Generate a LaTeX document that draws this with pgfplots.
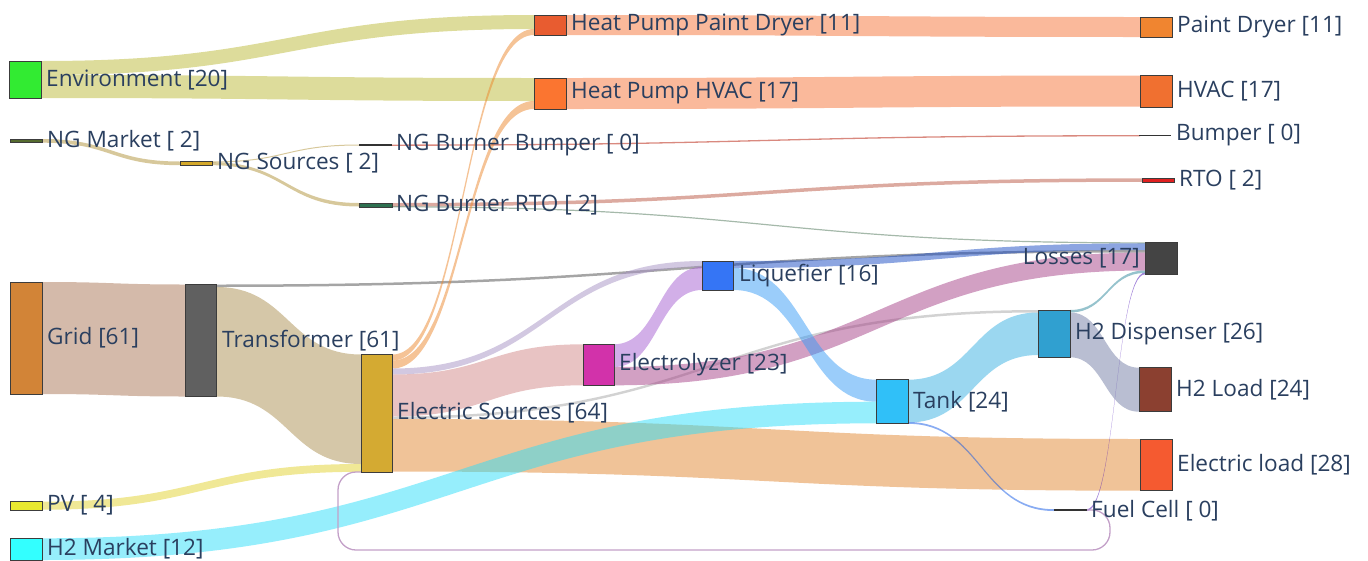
\documentclass[border=0pt]{standalone}
\usepackage{pgfplots}
\pgfplotsset{compat=1.18}
\usepackage{fontspec}
\setmainfont{Open Sans}
% node colours
\definecolor{nEnv}{RGB}{50,235,50}
\definecolor{nNGM}{RGB}{85,107,47}
\definecolor{nGrid}{RGB}{210,132,55}
\definecolor{nPV}{RGB}{232,232,48}
\definecolor{nH2M}{RGB}{51,255,255}
\definecolor{nNGS}{RGB}{212,168,42}
\definecolor{nTrf}{RGB}{96,96,96}
\definecolor{nRTOb}{RGB}{46,112,80}
\definecolor{nES}{RGB}{212,170,50}
\definecolor{nHPPD}{RGB}{232,92,48}
\definecolor{nHPHV}{RGB}{251,117,48}
\definecolor{nEly}{RGB}{210,50,170}
\definecolor{nLiq}{RGB}{53,117,245}
\definecolor{nTank}{RGB}{48,192,248}
\definecolor{nH2D}{RGB}{48,160,208}
\definecolor{nPD}{RGB}{240,133,48}
\definecolor{nHV}{RGB}{240,112,48}
\definecolor{nRTO}{RGB}{224,32,32}
\definecolor{nLoss}{RGB}{68,68,68}
\definecolor{nH2L}{RGB}{139,64,48}
\definecolor{nEL}{RGB}{245,90,48}
\definecolor{ndb}{RGB}{60,60,60}
\definecolor{labc}{RGB}{42,63,95}
% link colours (drawn at 50% opacity)
\definecolor{lEnv}{RGB}{187,185,55}
\definecolor{lHP}{RGB}{245,115,55}
\definecolor{lNG}{RGB}{175,145,55}
\definecolor{lBmp}{RGB}{180,20,0}
\definecolor{lRTO}{RGB}{185,85,65}
\definecolor{lRTOL}{RGB}{75,115,85}
\definecolor{lGrid}{RGB}{169,117,85}
\definecolor{lTrf}{RGB}{171,143,81}
\definecolor{lTrfL}{RGB}{75,75,75}
\definecolor{lPV}{RGB}{225,209,45}
\definecolor{lESHP}{RGB}{235,135,45}
\definecolor{lESLiq}{RGB}{165,145,195}
\definecolor{lESEly}{RGB}{209,135,135}
\definecolor{lESH2D}{RGB}{165,165,165}
\definecolor{lESEL}{RGB}{225,135,49}
\definecolor{lElyLiq}{RGB}{165,95,209}
\definecolor{lElyL}{RGB}{165,65,135}
\definecolor{lLiqT}{RGB}{55,155,245}
\definecolor{lLiqL}{RGB}{25,75,195}
\definecolor{lH2M}{RGB}{45,221,249}
\definecolor{lTH2D}{RGB}{55,175,225}
\definecolor{lTFC}{RGB}{20,90,230}
\definecolor{lH2DL}{RGB}{115,125,165}
\definecolor{lH2DLs}{RGB}{45,135,155}
\definecolor{lFCL}{RGB}{70,10,180}
\definecolor{lLoop}{RGB}{195,160,200}
% link: colour, x0, x1, xmid, top0, bottom0, top1, bottom1
\newcommand{\lnk}[8]{\fill[#1, fill opacity=0.5] (axis cs:#2,#5) .. controls (axis cs:#4,#5) and (axis cs:#4,#7) .. (axis cs:#3,#7) -- (axis cs:#3,#8) .. controls (axis cs:#4,#8) and (axis cs:#4,#6) .. (axis cs:#2,#6) -- cycle;}
% node: colour, x0, x1, y0, y1
\newcommand{\nd}[5]{\addplot[draw=ndb, fill=#1, line width=0.8pt] coordinates {(#2,#4) (#3,#4) (#3,#5) (#2,#5)} -- cycle;}
\newcommand{\zn}[3]{\addplot[draw=black!80, line width=1.5pt] coordinates {(#1,#3) (#2,#3)};}
\tikzset{lbl/.style={font=\fontsize{22.6}{27}\selectfont, text=labc, inner sep=0pt}}
\begin{document}
\begin{tikzpicture}
\begin{axis}[width=1368pt, height=560pt, scale only axis,
  xmin=0, xmax=1368, ymin=0, ymax=560, y dir=reverse,
  hide axis, clip=false]
% ---- links ----
\lnk{lEnv}{42}{534}{288}{61}{75}{15}{29}
\lnk{lEnv}{42}{534}{288}{75}{98}{78}{101}
\lnk{lHP}{566}{1140}{853}{15}{35}{17}{37}
\lnk{lHP}{566}{1140}{853}{78}{109}{75.5}{106.5}
\lnk{lNG}{42}{180}{111}{139}{142.7}{161.5}{165.2}
\lnk{lNG}{212}{359}{285.5}{161.5}{162.5}{144.5}{145.5}
\lnk{lNG}{212}{359}{285.5}{162.2}{165.2}{203}{206.5}
\lnk{lBmp}{392}{1140}{766}{144.5}{145.8}{135.1}{136.4}
\lnk{lRTO}{392}{1142}{767}{203}{206.5}{178.3}{181.8}
\lnk{lRTOL}{392}{1145}{768.5}{206.2}{207.4}{242.3}{243.5}
\lnk{lGrid}{42}{185}{113.5}{282}{394}{284.5}{396.5}
\lnk{lTrfL}{216.5}{1145}{680.75}{284.5}{287}{250}{252.5}
\lnk{lTrf}{216.5}{361}{288.75}{287}{396.5}{354.5}{464}
\lnk{lPV}{42}{361}{201.5}{501.7}{509.7}{464}{471.8}
\lnk{lESHP}{392.5}{534}{463.25}{354.5}{360.5}{29}{35}
\lnk{lESHP}{392.5}{534}{463.25}{360.5}{368.5}{101}{109}
\lnk{lESLiq}{392.5}{702}{547.25}{368.5}{374.5}{261}{267}
\lnk{lESEly}{392.5}{583}{487.75}{374.5}{416.5}{344.3}{385.3}
\lnk{lESH2D}{392.5}{1038}{715.25}{416.5}{419}{310}{312.5}
\lnk{lESEL}{392.5}{1140}{766.25}{419}{471.5}{439}{490.7}
\lnk{lElyLiq}{614}{702}{658}{344.3}{367}{267}{290}
\lnk{lElyL}{614}{1145}{879.5}{367}{385.3}{252.5}{270.5}
\lnk{lLiqL}{733.5}{1145}{939.25}{261}{268}{243.3}{250}
\lnk{lLiqT}{733.5}{876.5}{805}{268}{290}{379.7}{401.7}
\lnk{lH2M}{42}{876.5}{459.25}{538.3}{560}{401.7}{423.3}
\lnk{lTH2D}{908}{1038}{973}{379.7}{422.5}{312.5}{355}
\lnk{lTFC}{908}{1054}{981}{422}{423.8}{509.2}{511}
\lnk{lFCL}{1086.5}{1145}{1115.75}{509.2}{511}{272.6}{274.3}
\lnk{lH2DLs}{1070}{1145}{1107.5}{310}{312.5}{270.5}{273}
\lnk{lH2DL}{1070}{1139}{1104.5}{312.5}{357.3}{367.7}{411.7}
\addplot[draw=lLoop, line width=1.3pt, rounded corners=18pt] coordinates {(1086.5,510) (1110,510) (1110,550) (338,550) (338,472) (361,472)};
% ---- nodes ----
\nd{nEnv}{9}{41}{61}{98}
\nd{nNGM}{10}{42}{139}{142.7}
\nd{nGrid}{10}{42}{282}{394}
\nd{nPV}{10}{42}{501.7}{510}
\nd{nH2M}{10}{42}{538.3}{560}
\nd{nNGS}{180}{212}{161.5}{165.5}
\nd{nTrf}{185}{216.5}{284.5}{396.5}
\zn{359}{392}{145}
\nd{nRTOb}{359}{392}{203}{207}
\nd{nES}{361}{392.5}{354.5}{472}
\nd{nHPPD}{534}{566}{15}{35}
\nd{nHPHV}{534}{566}{78}{109}
\nd{nEly}{583}{614}{344.3}{385.3}
\nd{nLiq}{702}{733.5}{261}{290}
\nd{nTank}{876.5}{908}{379.7}{423.3}
\nd{nH2D}{1038}{1070}{310}{357.3}
\zn{1054}{1086.5}{510}
\nd{nPD}{1140}{1172}{17}{37}
\nd{nHV}{1140}{1172}{75}{107}
\zn{1139}{1171}{135.7}
\nd{nRTO}{1142}{1174}{178}{182}
\nd{nLoss}{1145}{1177}{242.3}{274.3}
\nd{nH2L}{1139}{1171}{367.7}{411.7}
\nd{nEL}{1140}{1172}{439}{490.7}
% ---- labels ----
\node[lbl, anchor=west] at (axis cs:46,79.5) {Environment [20]};
\node[lbl, anchor=west] at (axis cs:47,140.5) {NG Market [ 2]};
\node[lbl, anchor=west] at (axis cs:47,338) {Grid [61]};
\node[lbl, anchor=west] at (axis cs:47,505.5) {PV [ 4]};
\node[lbl, anchor=west] at (axis cs:47,549) {H2 Market [12]};
\node[lbl, anchor=west] at (axis cs:217,163.5) {NG Sources [ 2]};
\node[lbl, anchor=west] at (axis cs:222,340.5) {Transformer [61]};
\node[lbl, anchor=west] at (axis cs:396,145) {NG Burner Bumper [ 0]};
\node[lbl, anchor=west] at (axis cs:396,205) {NG Burner RTO [ 2]};
\node[lbl, anchor=west] at (axis cs:397,413) {Electric Sources [64]};
\node[lbl, anchor=west] at (axis cs:571,25) {Heat Pump Paint Dryer [11]};
\node[lbl, anchor=west] at (axis cs:571,93.5) {Heat Pump HVAC [17]};
\node[lbl, anchor=west] at (axis cs:619,365) {Electrolyzer [23]};
\node[lbl, anchor=west] at (axis cs:739,275.5) {Liquefier [16]};
\node[lbl, anchor=west] at (axis cs:913,401.5) {Tank [24]};
\node[lbl, anchor=west] at (axis cs:1075,333.5) {H2 Dispenser [26]};
\node[lbl, anchor=west] at (axis cs:1091,511) {Fuel Cell [ 0]};
\node[lbl, anchor=west] at (axis cs:1177,27) {Paint Dryer [11]};
\node[lbl, anchor=west] at (axis cs:1177,91) {HVAC [17]};
\node[lbl, anchor=west] at (axis cs:1176,135.5) {Bumper [ 0]};
\node[lbl, anchor=west] at (axis cs:1179,180) {RTO [ 2]};
\node[lbl, anchor=east] at (axis cs:1140,258.5) {Losses [17]};
\node[lbl, anchor=west] at (axis cs:1176,389.5) {H2 Load [24]};
\node[lbl, anchor=west] at (axis cs:1177,465) {Electric load [28]};
\coordinate (bbbl) at (axis cs:0,560);
\coordinate (bbtr) at (axis cs:1368,0);
\end{axis}
\pgfresetboundingbox
\path (bbbl) rectangle (bbtr);
\end{tikzpicture}
\end{document}
